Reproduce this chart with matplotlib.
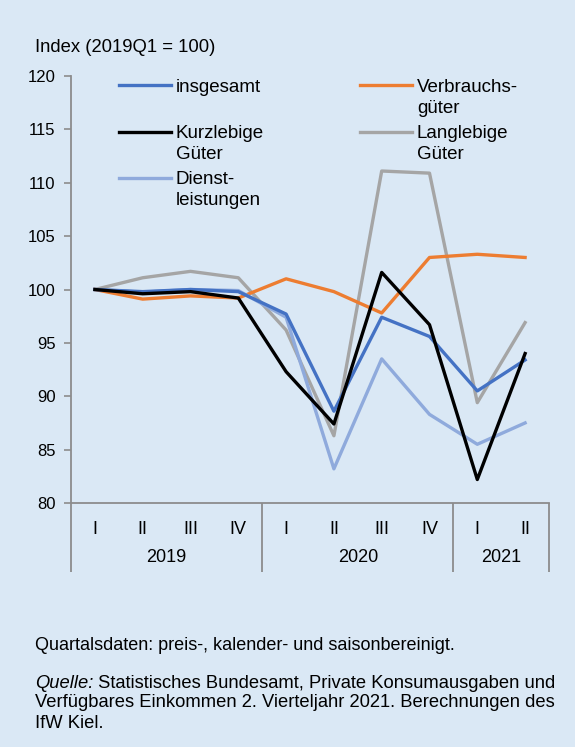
import matplotlib.pyplot as plt
from matplotlib.transforms import blended_transform_factory

plt.rcParams['font.family'] = ['Liberation Sans', 'DejaVu Sans']

# Quartale 2019Q1 .. 2021Q2
quartale = ["I", "II", "III", "IV", "I", "II", "III", "IV", "I", "II"]
jahre = ["2019", "2020", "2021"]
quartale_je_jahr = [4, 4, 2]

insgesamt = [100.0, 99.8, 100.0, 99.8, 97.7, 88.6, 97.4, 95.6, 90.5, 93.4]
verbrauch = [100.0, 99.1, 99.4, 99.2, 101.0, 99.8, 97.8, 103.0, 103.3, 103.0]
kurzlebig = [100.0, 99.6, 99.8, 99.2, 92.3, 87.4, 101.6, 96.7, 82.2, 94.0]
langlebig = [100.0, 101.1, 101.7, 101.1, 96.2, 86.3, 111.1, 110.9, 89.4, 96.9]
dienste = [100.0, 99.75, 100.0, 99.9, 97.4, 83.2, 93.5, 88.3, 85.5, 87.5]

bg = '#DAE8F5'
grau = '#8C8C8C'
fs = 13

fig = plt.figure(figsize=(5.75, 7.47), dpi=100, facecolor=bg)
ax = fig.add_axes([71/575, 1 - 503/747, 478/575, 427/747])
ax.set_facecolor(bg)

x = range(len(quartale))
lw = 2.4
l_ins, = ax.plot(x, insgesamt, color='#4472C4', lw=lw, label="insgesamt\n ")
l_kurz, = ax.plot(x, kurzlebig, color='black', lw=lw, label="Kurzlebige\nGüter")
l_dien, = ax.plot(x, dienste, color='#8FAADC', lw=lw, label="Dienst-\nleistungen")
l_verb, = ax.plot(x, verbrauch, color='#ED7D31', lw=lw, label="Verbrauchs-\ngüter")
l_lang, = ax.plot(x, langlebig, color='#A5A5A5', lw=lw, label="Langlebige\nGüter")
# Zeichenreihenfolge wie im Original
for l, z in [(l_lang, 2), (l_verb, 3), (l_dien, 4), (l_ins, 5), (l_kurz, 6)]:
    l.set_zorder(z)

ax.set_xlim(-0.5, len(quartale) - 0.5)
ax.set_ylim(80, 120)
ax.set_yticks(range(80, 121, 5))
ax.set_xticks(list(x))
ax.set_xticklabels(quartale)
ax.tick_params(axis='x', length=0, pad=13, labelsize=fs, colors='black')
ax.tick_params(axis='y', length=5, width=1.2, color=grau, pad=6, labelsize=12)

for s in ['top', 'right']:
    ax.spines[s].set_visible(False)
for s in ['left', 'bottom']:
    ax.spines[s].set_color(grau)
    ax.spines[s].set_linewidth(1.3)

# Jahresgruppen
trans = blended_transform_factory(ax.transData, ax.transAxes)
start = -0.5
grenzen = [start]
for jahr, n in zip(jahre, quartale_je_jahr):
    ax.text(start + n / 2, -0.127, jahr, transform=trans, ha='center', va='center', fontsize=fs)
    start += n
    grenzen.append(start)
ax.vlines(grenzen, -0.162, 0, transform=trans, color=grau, lw=1.3, clip_on=False)

fig.text(35/575, 1 - 47/747, "Index (2019Q1 = 100)", fontsize=13.3, va='center')

handles = [l_ins, l_kurz, l_dien, l_verb, l_lang]
leg = ax.legend(handles=handles, labels=[h.get_label() for h in handles], ncol=2,
                loc='upper left', bbox_to_anchor=(0.084, 1.011), frameon=False,
                fontsize=13.5, handlelength=2.8, handletextpad=0.25,
                columnspacing=5.1, labelspacing=0.45, borderaxespad=0)
for t in leg.get_texts():
    t.set_linespacing(1.3)
for col in leg._legend_handle_box.get_children():
    for row in col.get_children():
        row.align = 'top'

fig.text(35/575, 1 - 645/747, "Quartalsdaten: preis-, kalender- und saisonbereinigt.",
         fontsize=fs, va='center')
t1 = fig.text(35/575, 1 - 684/747, "Quelle:", fontsize=13.2, style='italic', va='center')
ax.annotate(" Statistisches Bundesamt, Private Konsumausgaben und", xy=(1, 0.5),
            xycoords=t1, fontsize=13.2, va='center', ha='left', annotation_clip=False)
fig.text(35/575, 1 - 713/747, "Verfügbares Einkommen 2. Vierteljahr 2021. Berechnungen des\nIfW Kiel.",
         fontsize=13.2, va='center', linespacing=1.24)

fig.savefig('out.png', dpi=100, facecolor=bg)
